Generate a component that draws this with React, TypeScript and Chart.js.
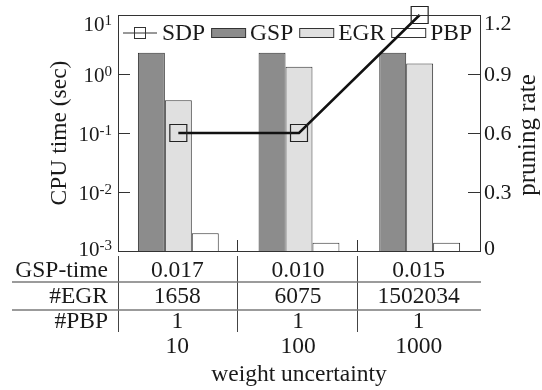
import React, { useEffect, useRef } from "react";
import { Chart, registerables } from "chart.js";

Chart.register(...registerables);

const categories = ["10", "100", "1000"];
const gspTime = [2.3, 2.3, 2.3];
const egrTime = [0.36, 1.33, 1.51];
const pbpTime = [0.002, 0.00138, 0.00138];
const sdpRate = [0.6, 0.6, 1.2];

const gspTimeRow = ["0.017", "0.010", "0.015"];
const egrCountRow = ["1658", "6075", "1502034"];
const pbpCountRow = ["1", "1", "1"];
const rowLabels = ["GSP-time", "#EGR", "#PBP"];

const leftTickValues = [10, 1, 0.1, 0.01, 0.001];
const rightTickValues = [0, 0.3, 0.6, 0.9, 1.2];

const FONT = "'Liberation Serif', 'Times New Roman', serif";
const BIG = `23.5px ${FONT}`;
const TEXT = "#1a1a1a";
const LINE = "#333333";

const legendItems = [
  { label: "SDP", kind: "line", fill: "" },
  { label: "GSP", kind: "box", fill: "#8c8c8c" },
  { label: "EGR", kind: "box", fill: "#e0e0e0" },
  { label: "PBP", kind: "box", fill: "#ffffff" },
];

const decorPlugin = {
  id: "decor",
  beforeDatasetsDraw(chart: any) {
    const ctx = chart.ctx as CanvasRenderingContext2D;
    const { left, top } = chart.chartArea;
    ctx.save();
    ctx.font = BIG;
    ctx.textBaseline = "middle";
    ctx.textAlign = "left";
    let x = left + 5;
    const cy = top + 18;
    for (const it of legendItems) {
      ctx.strokeStyle = LINE;
      ctx.lineWidth = 1;
      if (it.kind === "line") {
        ctx.beginPath();
        ctx.moveTo(x, cy);
        ctx.lineTo(x + 34, cy);
        ctx.stroke();
        ctx.strokeRect(x + 11.5, cy - 5.5, 11, 11);
      } else {
        ctx.fillStyle = it.fill;
        ctx.fillRect(x + 0.5, cy - 4.5, 34, 9);
        ctx.strokeRect(x + 0.5, cy - 4.5, 34, 9);
      }
      x += 39;
      ctx.fillStyle = TEXT;
      ctx.fillText(it.label, x, cy + 1);
      x += ctx.measureText(it.label).width + 6;
    }
    ctx.restore();
  },
  afterDraw(chart: any) {
    const ctx = chart.ctx as CanvasRenderingContext2D;
    const { left, right, top, bottom } = chart.chartArea;
    const yS = chart.scales.y;
    const y1S = chart.scales.y1;
    const xS = chart.scales.x;
    ctx.save();
    // frame
    ctx.strokeStyle = LINE;
    ctx.lineWidth = 1;
    ctx.strokeRect(Math.round(left) + 0.5, Math.round(top) + 0.5, Math.round(right - left), Math.round(bottom - top));

    const clampY = (py: number) => Math.max(top + 8, Math.min(bottom - 3, py));

    // left ticks + labels
    for (const v of leftTickValues) {
      const py = yS.getPixelForValue(v);
      if (py > top + 2 && py < bottom - 2) {
        ctx.beginPath();
        ctx.moveTo(left, Math.round(py) + 0.5);
        ctx.lineTo(left + 12, Math.round(py) + 0.5);
        ctx.stroke();
      }
      const exp = String(Math.round(Math.log10(v)));
      const ly = clampY(py);
      ctx.fillStyle = TEXT;
      ctx.textBaseline = "alphabetic";
      ctx.textAlign = "left";
      ctx.font = `15px ${FONT}`;
      const we = ctx.measureText(exp).width;
      ctx.font = `21px ${FONT}`;
      const wb = ctx.measureText("10").width;
      const xr = left - 6;
      ctx.fillText("10", xr - we - wb, ly + 7.5);
      ctx.font = `15px ${FONT}`;
      ctx.fillText(exp, xr - we, ly + 2);
    }

    // right ticks + labels
    for (const v of rightTickValues) {
      const py = y1S.getPixelForValue(v);
      if (py > top + 2 && py < bottom - 2) {
        ctx.beginPath();
        ctx.moveTo(right - 12, Math.round(py) + 0.5);
        ctx.lineTo(right, Math.round(py) + 0.5);
        ctx.stroke();
      }
      ctx.fillStyle = TEXT;
      ctx.font = `22px ${FONT}`;
      ctx.textAlign = "left";
      ctx.textBaseline = "middle";
      ctx.fillText(String(v), right + 4, clampY(py) + 1);
    }

    // category boundaries
    const bounds: number[] = [];
    for (let i = 0; i < categories.length - 1; i++) {
      bounds.push(Math.round((xS.getPixelForValue(i) + xS.getPixelForValue(i + 1)) / 2) - 1.5);
    }
    for (const bx of bounds) {
      ctx.beginPath();
      ctx.moveTo(bx, bottom - 11);
      ctx.lineTo(bx, bottom);
      ctx.stroke();
    }

    // table
    ctx.strokeStyle = "#444";
    for (const bx of [Math.round(left) + 0.5, ...bounds]) {
      ctx.beginPath();
      ctx.moveTo(bx, bottom + 5);
      ctx.lineTo(bx, bottom + 81);
      ctx.stroke();
    }
    ctx.strokeStyle = "#7a7a7a";
    ctx.lineWidth = 1.5;
    for (const dy of [31, 59]) {
      ctx.beginPath();
      ctx.moveTo(12, bottom + dy);
      ctx.lineTo(right + 1, bottom + dy);
      ctx.stroke();
    }

    ctx.fillStyle = TEXT;
    ctx.font = BIG;
    ctx.textBaseline = "middle";
    const rowsY = [20, 46, 71];
    const rows = [gspTimeRow, egrCountRow, pbpCountRow];
    rows.forEach((row, r) => {
      ctx.textAlign = "right";
      ctx.fillText(rowLabels[r], left - 10, bottom + rowsY[r]);
      ctx.textAlign = "center";
      row.forEach((t, i) => ctx.fillText(t, xS.getPixelForValue(i) - 1, bottom + rowsY[r]));
    });
    ctx.textAlign = "center";
    categories.forEach((c, i) => ctx.fillText(c, xS.getPixelForValue(i) - 1, bottom + 96));
    ctx.fillText("weight uncertainty", (left + right) / 2, bottom + 124);

    // axis titles
    const midY = (top + bottom) / 2;
    ctx.save();
    ctx.translate(60, midY);
    ctx.rotate(-Math.PI / 2);
    ctx.fillText("CPU time (sec)", 0, 0);
    ctx.restore();
    ctx.save();
    ctx.translate(528, midY + 2);
    ctx.rotate(-Math.PI / 2);
    ctx.font = `25px ${FONT}`;
    ctx.fillText("pruning rate", 0, 0);
    ctx.restore();

    ctx.restore();
  },
};

export default function App() {
  const ref = useRef<HTMLCanvasElement | null>(null);
  useEffect(() => {
    document.body.style.margin = "0";
    const canvas = ref.current;
    if (!canvas) return;
    const chart = new Chart(canvas, {
      type: "bar",
      data: {
        labels: categories,
        datasets: [
          {
            type: "line",
            label: "SDP",
            data: sdpRate,
            yAxisID: "y1",
            borderColor: "#111",
            borderWidth: 2.5,
            pointStyle: "rect",
            pointRadius: 12,
            pointBorderWidth: 1.2,
            pointBorderColor: "#222",
            pointBackgroundColor: "rgba(0,0,0,0)",
            clip: false,
            order: 0,
          } as any,
          {
            label: "GSP",
            data: gspTime,
            yAxisID: "y",
            backgroundColor: "#8c8c8c",
            borderColor: LINE,
            borderWidth: 1,
            base: 0.001,
            order: 1,
          } as any,
          {
            label: "EGR",
            data: egrTime,
            yAxisID: "y",
            backgroundColor: "#e0e0e0",
            borderColor: LINE,
            borderWidth: 1,
            base: 0.001,
            order: 1,
          } as any,
          {
            label: "PBP",
            data: pbpTime,
            yAxisID: "y",
            backgroundColor: "#ffffff",
            borderColor: LINE,
            borderWidth: 1,
            base: 0.001,
            order: 1,
          } as any,
        ],
      },
      options: {
        animation: false,
        responsive: false,
        layout: { padding: { top: 15, left: 0, right: 0, bottom: 0 } },
        plugins: { legend: { display: false }, tooltip: { enabled: false } },
        datasets: { bar: { categoryPercentage: 0.67, barPercentage: 1.0 } },
        scales: {
          x: {
            type: "category",
            offset: true,
            grid: { display: false },
            border: { display: false },
            ticks: { display: false },
            afterFit: (s: any) => {
              s.height = 139;
            },
          },
          y: {
            type: "logarithmic",
            position: "left",
            min: 0.001,
            max: 10,
            grid: { display: false },
            border: { display: false },
            ticks: { display: false },
            afterFit: (s: any) => {
              s.width = 118;
            },
          },
          y1: {
            type: "linear",
            position: "right",
            min: 0,
            max: 1.2,
            grid: { display: false },
            border: { display: false },
            ticks: { display: false },
            afterFit: (s: any) => {
              s.width = 62;
            },
          },
        },
      } as any,
      plugins: [decorPlugin],
    });
    return () => chart.destroy();
  }, []);
  return (
    <div style={{ width: 542, height: 390, background: "#fff" }}>
      <canvas ref={ref} width={542} height={390} />
    </div>
  );
}
